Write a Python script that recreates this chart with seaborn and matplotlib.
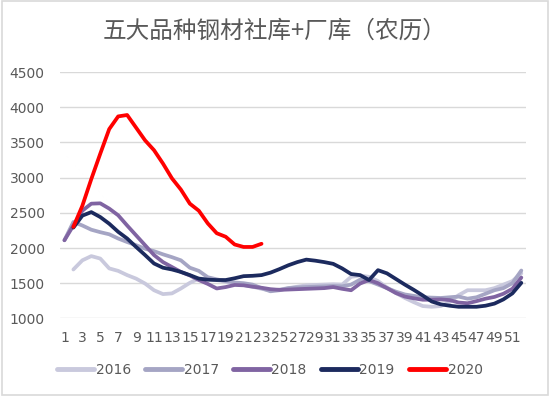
import numpy as np
import pandas as pd
import matplotlib
matplotlib.use("Agg")
import matplotlib.pyplot as plt
import seaborn as sns

# lunar-calendar week numbers
weeks = list(range(1, 53))
tick_weeks = list(range(1, 52, 2))
y_ticks = [1000, 1500, 2000, 2500, 3000, 3500, 4000, 4500]

nan = np.nan
stock_2016 = [nan, 1695, 1825, 1885, 1850, 1710, 1675, 1615, 1565, 1495,
              1400, 1345, 1355, 1425, 1505, 1565, 1560, 1545, 1520, 1500,
              1475, 1450, 1420, 1395, 1410, 1430, 1450, 1470, 1475, 1480,
              1485, 1480, 1590, 1610, 1590, 1530, 1440, 1360, 1290, 1230,
              1175, 1165, 1175, 1230, 1330, 1400, 1400, 1400, 1430, 1480,
              1530, 1640]
stock_2017 = [2110, 2370, 2320, 2260, 2225, 2195, 2135, 2085, 2040, 1990,
              1955, 1910, 1870, 1825, 1720, 1675, 1585, 1555, 1530, 1510,
              1500, 1480, 1430, 1385, 1400, 1430, 1440, 1445, 1450, 1455,
              1460, 1455, 1480, 1550, 1530, 1480, 1430, 1380, 1340, 1320,
              1300, 1295, 1290, 1300, 1310, 1280, 1300, 1350, 1400, 1430,
              1500, 1680]
stock_2018 = [2110, 2320, 2530, 2630, 2635, 2560, 2465, 2320, 2180, 2040,
              1900, 1800, 1730, 1660, 1610, 1545, 1490, 1425, 1445, 1475,
              1470, 1450, 1435, 1415, 1405, 1410, 1415, 1420, 1425, 1430,
              1445, 1420, 1400, 1495, 1545, 1500, 1430, 1360, 1310, 1285,
              1265, 1265, 1270, 1260, 1225, 1215, 1245, 1280, 1305, 1350,
              1420, 1580]
stock_2019 = [nan, 2290, 2460, 2510, 2440, 2345, 2230, 2135, 2015, 1900,
              1780, 1720, 1695, 1660, 1615, 1565, 1550, 1545, 1545, 1570,
              1600, 1605, 1615, 1650, 1700, 1755, 1800, 1835, 1820, 1800,
              1775, 1710, 1630, 1615, 1545, 1685, 1640, 1560, 1480, 1405,
              1325, 1240, 1200, 1180, 1165, 1165, 1165, 1180, 1210, 1270,
              1355, 1505]
stock_2020 = [nan, 2300, 2600, 2980, 3340, 3690, 3870, 3890, 3710, 3530,
              3390, 3200, 2990, 2830, 2630, 2530, 2350, 2210, 2160, 2050,
              2015, 2015, 2060] + [nan] * 29

years = ["2016", "2017", "2018", "2019", "2020"]
colors = ["#C9C9DD", "#A5A5C4", "#8064A2", "#1C2A5E", "#FF0000"]
text_color = "#595959"


def build_frame():
    series = [stock_2016, stock_2017, stock_2018, stock_2019, stock_2020]
    parts = []
    for year, values in zip(years, series):
        parts.append(pd.DataFrame({"week": weeks, "stock": values, "year": year}))
    df = pd.concat(parts, ignore_index=True)
    return df.dropna()


def main():
    sns.set_style("white")
    plt.rcParams['font.family'] = ['Noto Sans CJK SC', 'DejaVu Sans']

    df = build_frame()

    fig = plt.figure(figsize=(5.5, 3.96), dpi=100)
    ax = fig.add_axes([0.109, 0.196, 0.847, 0.622])

    sns.lineplot(data=df, x="week", y="stock", hue="year", hue_order=years,
                 palette=colors, linewidth=2.7, ax=ax, sort=True)

    ax.set_xlim(0.5, 52.5)
    ax.set_ylim(1000, 4500)
    ax.set_xticks(tick_weeks)
    ax.set_xticklabels([str(w) for w in tick_weeks], family="DejaVu Sans")
    ax.set_yticks(y_ticks)
    ax.set_yticklabels([str(v) for v in y_ticks], family="DejaVu Sans")
    ax.tick_params(axis="both", length=0, labelsize=10, labelcolor=text_color)
    ax.tick_params(axis="y", pad=11)
    ax.tick_params(axis="x", pad=9)
    ax.grid(axis="y", color="#D9D9D9", linewidth=1)
    ax.set_axisbelow(True)
    for side in ["top", "right", "left", "bottom"]:
        ax.spines[side].set_visible(False)
    ax.set_xlabel("")
    ax.set_ylabel("")

    sns.move_legend(ax, "center", bbox_to_anchor=(0.45, -0.21), ncol=5,
                    frameon=False, title=None,
                    prop={"family": "DejaVu Sans", "size": 10},
                    handlelength=2.7, handletextpad=0.1, columnspacing=1.0)
    for t in ax.get_legend().get_texts():
        t.set_color(text_color)
    for h in ax.get_legend().get_lines():
        h.set_linewidth(3.5)
        h.set_solid_capstyle("round")

    fig.text(0.5, 0.92, "五大品种钢材社库+厂库（农历）", ha="center", va="center",
             fontsize=17, color=text_color)

    border = plt.Rectangle((0.003, 0.003), 0.994, 0.994, transform=fig.transFigure,
                           fill=False, edgecolor="#D9D9D9", linewidth=1.2)
    fig.patches.append(border)

    fig.savefig("out.png", dpi=100)
    plt.close(fig)


if __name__ == "__main__":
    main()
